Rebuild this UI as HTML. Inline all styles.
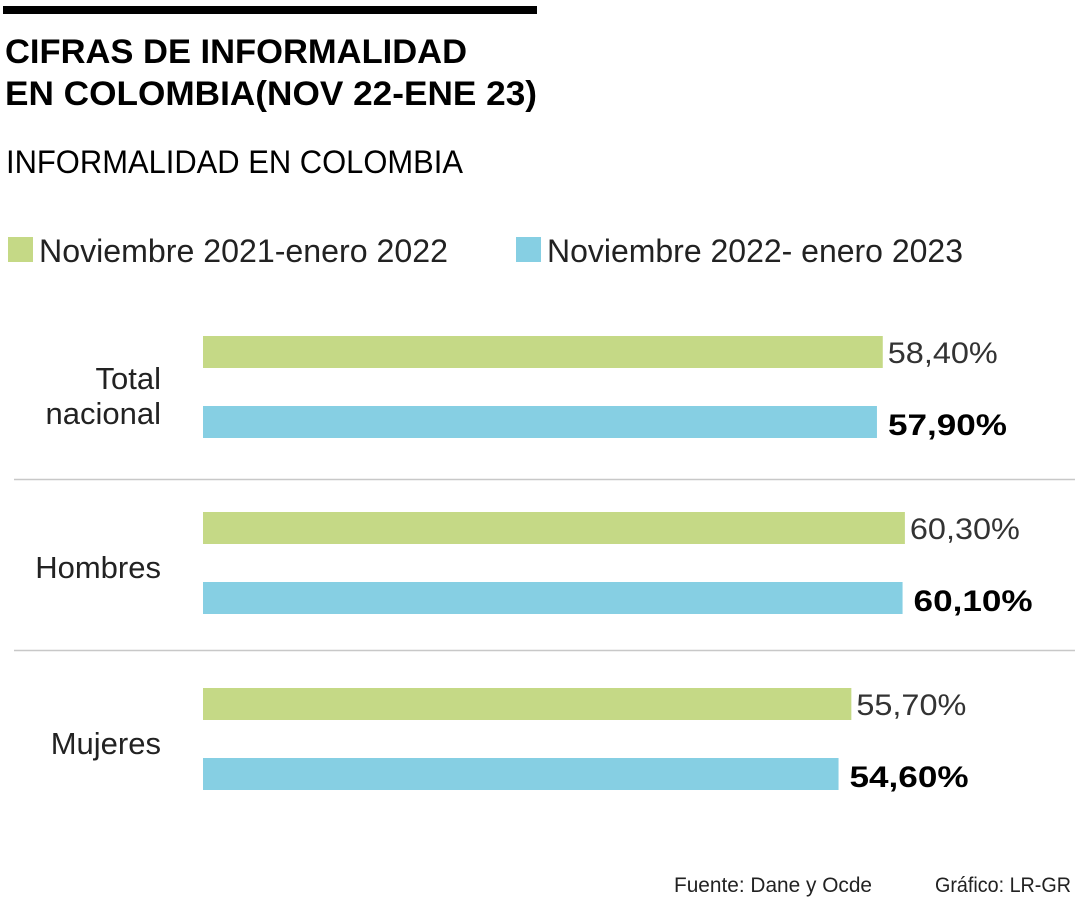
<!DOCTYPE html>
<html><head><meta charset="utf-8"><style>
html,body{margin:0;padding:0;background:#fff}
svg{display:block;font-family:"Liberation Sans",sans-serif}
</style></head><body>
<svg id="chart" width="1080" height="900" xmlns="http://www.w3.org/2000/svg">
<rect x="3" y="6" width="534" height="8" fill="#000"/>
<text x="5" y="63" font-size="34" font-weight="bold" textLength="462" lengthAdjust="spacingAndGlyphs">CIFRAS DE INFORMALIDAD</text>
<text x="5" y="105" font-size="34" font-weight="bold" textLength="532" lengthAdjust="spacingAndGlyphs">EN COLOMBIA(NOV 22-ENE 23)</text>
<text x="6" y="173" font-size="32" textLength="457" lengthAdjust="spacingAndGlyphs">INFORMALIDAD EN COLOMBIA</text>
<g>
<rect x="8" y="237" width="25" height="25" fill="#c5d986"/>
<text x="39" y="262" font-size="32" textLength="409" lengthAdjust="spacingAndGlyphs" fill="#222">Noviembre 2021-enero 2022</text>
<rect x="516" y="237" width="25" height="25" fill="#86cfe3"/>
<text x="547" y="262" font-size="32" textLength="416" lengthAdjust="spacingAndGlyphs" fill="#222">Noviembre 2022- enero 2023</text>
</g>
<line x1="14" y1="479.5" x2="1075" y2="479.5" stroke="#c8c8c8" stroke-width="1.5"/>
<line x1="14" y1="650.5" x2="1075" y2="650.5" stroke="#c8c8c8" stroke-width="1.5"/>
<g id="marks"></g>
<text x="674" y="892" font-size="21" textLength="198" lengthAdjust="spacingAndGlyphs" fill="#222">Fuente: Dane y Ocde</text>
<text x="935" y="892" font-size="21" textLength="136" lengthAdjust="spacingAndGlyphs" fill="#222">Gráfico: LR-GR</text>
</svg>
<script>
const categories = ["Total nacional", "Hombres", "Mujeres"];
const series2021 = [58.4, 60.3, 55.7];
const series2022 = [57.9, 60.1, 54.6];
const labels2021 = ["58,40%", "60,30%", "55,70%"];
const labels2022 = ["57,90%", "60,10%", "54,60%"];

const NS = "http://www.w3.org/2000/svg";
const x0 = 203, pxPerUnit = 11.64;
function xScale(v){ return x0 + v * pxPerUnit; }
function groupTop(i){ return 336 + i * 176; }
const g = document.getElementById("marks");
function mk(tag, attrs){ const e = document.createElementNS(NS, tag); for (const k in attrs) e.setAttribute(k, attrs[k]); g.appendChild(e); return e; }

categories.forEach((c, i) => {
  const top = groupTop(i);
  const b1 = mk("rect", {x: x0, y: top, width: xScale(series2021[i]) - x0, height: 32, fill: "#c5d986"});
  
  
  const b2 = mk("rect", {x: x0, y: top + 70, width: xScale(series2022[i]) - x0, height: 32, fill: "#86cfe3"});
  
  
  const t1 = mk("text", {x: xScale(series2021[i]) + 5, y: top + 27, "font-size": 30, fill: "#333", textLength: 110, lengthAdjust: "spacingAndGlyphs"});
  t1.textContent = labels2021[i];
  
  
  const t2 = mk("text", {x: xScale(series2022[i]) + 11, y: top + 99, "font-size": 30, "font-weight": "bold", fill: "#000", textLength: 119, lengthAdjust: "spacingAndGlyphs"});
  t2.textContent = labels2022[i];
  
  
  const words = c === "Total nacional" ? ["Total", "nacional"] : [c];
  words.forEach((w, j) => {
    const yy = words.length === 2 ? top + 53 + j * 35 : top + 66;
    const lt = mk("text", {x: 161, y: yy, "font-size": 31, "text-anchor": "end", fill: "#222"});
    lt.textContent = w;
    
    
  });
});
</script>
</body></html>
